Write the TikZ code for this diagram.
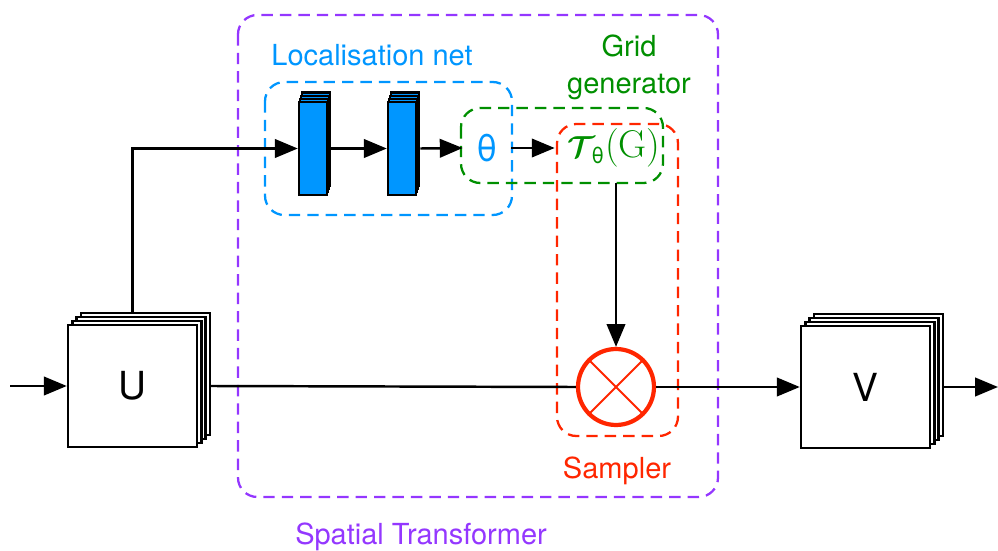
\documentclass[tikz,border=0pt]{standalone}
\usepackage{amsmath}
\usepackage{fontspec}
\setsansfont{TeX Gyre Heros}
\usetikzlibrary{arrows.meta,shadows}

\definecolor{grape}{HTML}{9437FF}
\definecolor{aqua}{HTML}{0096FF}
\definecolor{clover}{HTML}{008F00}
\definecolor{maraschino}{HTML}{FF2600}

\tikzset{
  wire/.style={line width=1.4pt, -{Triangle[length=13pt,width=10.5pt]}},
  dashbox/.style={line width=1.3pt, dash pattern=on 6.5pt off 4pt, rounded corners=11pt},
  boxtitle/.style={font=\sffamily\fontsize{16.5}{21}\selectfont},
  fmapcopy/.style={copy shadow={shadow xshift=#1*2.45pt, shadow yshift=#1*2.3pt,
      draw=black, fill=white, line width=1.4pt}},
  fmap/.style={draw, fill=white, line width=1.4pt, inner sep=0,
    minimum width=2.58cm, minimum height=2.44cm,
    font=\sffamily\fontsize{22}{26}\selectfont,
    fmapcopy=3, fmapcopy=2, fmapcopy=1},
  layercopy/.style={copy shadow={shadow xshift=#1*0.6pt, shadow yshift=#1*1.8pt,
      draw=black, fill=aqua, line width=1.2pt}},
  layer/.style={draw=black, fill=aqua, line width=1.4pt, inner sep=0,
    minimum width=0.56cm, minimum height=1.86cm,
    layercopy=3, layercopy=2, layercopy=1}
}

\begin{document}
\begin{tikzpicture}[x=0.02cm, y=-0.02cm, font=\sffamily]
  \useasboundingbox (0,0) rectangle (998,551);

  % Spatial Transformer
  \draw[grape, dashbox] (238,15) rectangle (718,497);
  \node[boxtitle, grape] (stname) at (421,537) {Spatial Transformer};

  % Localisation net
  \draw[aqua, dashbox] (265,82) rectangle (512,215);
  \node[boxtitle, aqua] (locname) at (372,55) {Localisation net};

  % Grid generator
  \draw[clover, dashbox] (461,108) rectangle (663,183);
  \node[boxtitle, clover, align=center] (gridname) at (629,67) {Grid\\generator};

  % Sampler
  \draw[maraschino, dashbox] (557,124) rectangle (678,436);
  \node[boxtitle, maraschino] (sampname) at (617,471) {Sampler};

  % Feature maps
  \node[fmap] (U) at (132.5,386) {U};
  \node[fmap] (V) at (865.5,387) {V};

  % Layers
  \node[layer] (b1) at (313,148.5) {};
  \node[layer] (b2) at (402,148.5) {};

  % Parameters and transform
  \node[aqua, font=\sffamily\fontsize{21}{24}\selectfont, minimum width=0.96cm, inner sep=0] (theta) at (487,148) {θ};
  \node[clover, font=\fontsize{18}{22}\selectfont, minimum width=2.36cm, minimum height=1.4cm, inner sep=0] (T) at (614,148)
    {$\boldsymbol{\mathcal{T}}_{\!\text{\sffamily θ}}$\rmfamily\fontsize{22}{26}\selectfont(G)};

  % Sampling kernel
  \node[circle, draw=maraschino, line width=2.4pt, minimum size=1.52cm, inner sep=0] (s) at (616,387) {};
  \draw[maraschino, line width=1.1pt] (s.north west) -- (s.south east);
  \draw[maraschino, line width=1.1pt] (s.north east) -- (s.south west);

  % Connections
  \coordinate (in) at (10,386);
  \coordinate (out) at (998,387);
  \draw[wire] (in) -- (U.west);
  \draw[wire] ([yshift=6.8pt]U.north) |- (b1.west);
  \draw[wire] ([xshift=1.8pt]b1.east) -- (b2.west);
  \draw[wire] ([xshift=1.8pt]b2.east) -- (theta.west);
  \draw[wire] (theta.east) -- (T.west);
  \draw[wire] (T.south -| s.north) -- (s.north);
  \draw[line width=1.4pt] ([xshift=7.3pt]U.east) -- (s.west);
  \draw[wire] (s.east) -- (V.west);
  \draw[wire] ([xshift=7.3pt]V.east) -- (out);
\end{tikzpicture}
\end{document}
